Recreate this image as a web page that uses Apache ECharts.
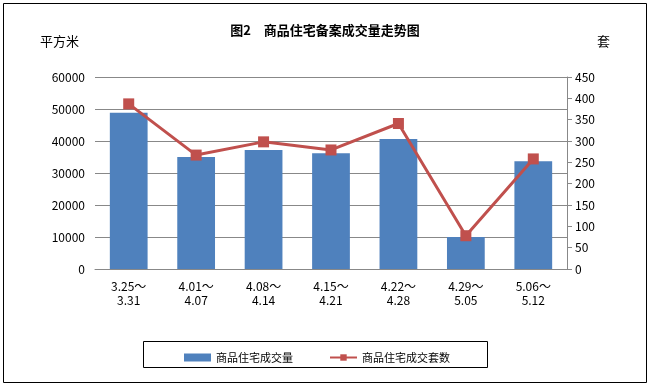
<!DOCTYPE html>
<html><head><meta charset="utf-8">
<script src="https://cdn.jsdelivr.net/npm/echarts@6/dist/echarts.min.js"></script>
<style>html,body{margin:0;padding:0;background:#fff}#c{width:650px;height:387px}</style>
</head><body><div id="c"></div>
<script>
const categories = ['3.25～\n3.31','4.01～\n4.07','4.08～\n4.14','4.15～\n4.21','4.22～\n4.28','4.29～\n5.05','5.06～\n5.12'];
const areaValues = [48800, 35000, 37200, 36200, 40600, 10000, 33700];
const countValues = [387, 267, 298, 279, 341, 78, 258];
const leftTicks = {min: 0, max: 60000, interval: 10000};
const rightTicks = {min: 0, max: 450, interval: 50};
const FONT = '"Noto Sans CJK SC", sans-serif';
const chart = echarts.init(document.getElementById('c'), null, {renderer: 'canvas'});
chart.setOption({
  animation: false,
  backgroundColor: '#fff',
  textStyle: {fontFamily: FONT},
  title: {
    text: '图2　商品住宅备案成交量走势图', left: 'center', top: 19,
    textStyle: {fontSize: 13, fontWeight: 'bold', color: '#000', fontFamily: FONT}
  },
  graphic: [
    {type: 'rect', shape: {x: 3.5, y: 3.5, width: 643, height: 379}, style: {fill: null, stroke: '#000', lineWidth: 1}, silent: true},
    {type: 'rect', shape: {x: 143.5, y: 341.5, width: 344, height: 26}, style: {fill: null, stroke: '#000', lineWidth: 1}, silent: true},
    {type: 'text', left: 40, top: 35, style: {text: '平方米', fontSize: 13, fill: '#000', fontFamily: FONT}},
    {type: 'text', left: 597, top: 35, style: {text: '套', fontSize: 13, fill: '#000', fontFamily: FONT}}
  ],
  legend: {
    left: 179, top: 347, itemGap: 36, itemWidth: 27, itemHeight: 8,
    textStyle: {fontSize: 11, color: '#000', fontFamily: FONT},
    data: [{name: '商品住宅成交量', icon: 'rect'}, {name: '商品住宅成交套数'}]
  },
  grid: {left: 95, right: 83, top: 77, bottom: 118},
  xAxis: {
    type: 'category', data: categories,
    axisLine: {lineStyle: {color: '#888'}},
    axisTick: {show: false},
    axisLabel: {fontSize: 12, color: '#000', lineHeight: 14, margin: 10, interval: 0, fontFamily: FONT}
  },
  yAxis: [
    {type: 'value', min: leftTicks.min, max: leftTicks.max, interval: leftTicks.interval,
     axisLine: {show: false}, axisTick: {show: false},
     axisLabel: {fontSize: 12, color: '#000', margin: 10, fontFamily: FONT, formatter: v => String(v)},
     splitLine: {lineStyle: {color: '#888'}}},
    {type: 'value', min: rightTicks.min, max: rightTicks.max, interval: rightTicks.interval,
     axisLine: {show: true, lineStyle: {color: '#888'}},
     axisTick: {show: true, length: 5, lineStyle: {color: '#888'}},
     axisLabel: {fontSize: 12, color: '#000', margin: 8, fontFamily: FONT},
     splitLine: {show: false}}
  ],
  series: [
    {name: '商品住宅成交量', type: 'bar', data: areaValues, barWidth: '56%',
     itemStyle: {color: '#4F81BD'}},
    {name: '商品住宅成交套数', type: 'line', yAxisIndex: 1, data: countValues,
     symbol: 'rect', symbolSize: 11,
     lineStyle: {color: '#C0504D', width: 3}, itemStyle: {color: '#C0504D'}}
  ]
});
</script></body></html>
